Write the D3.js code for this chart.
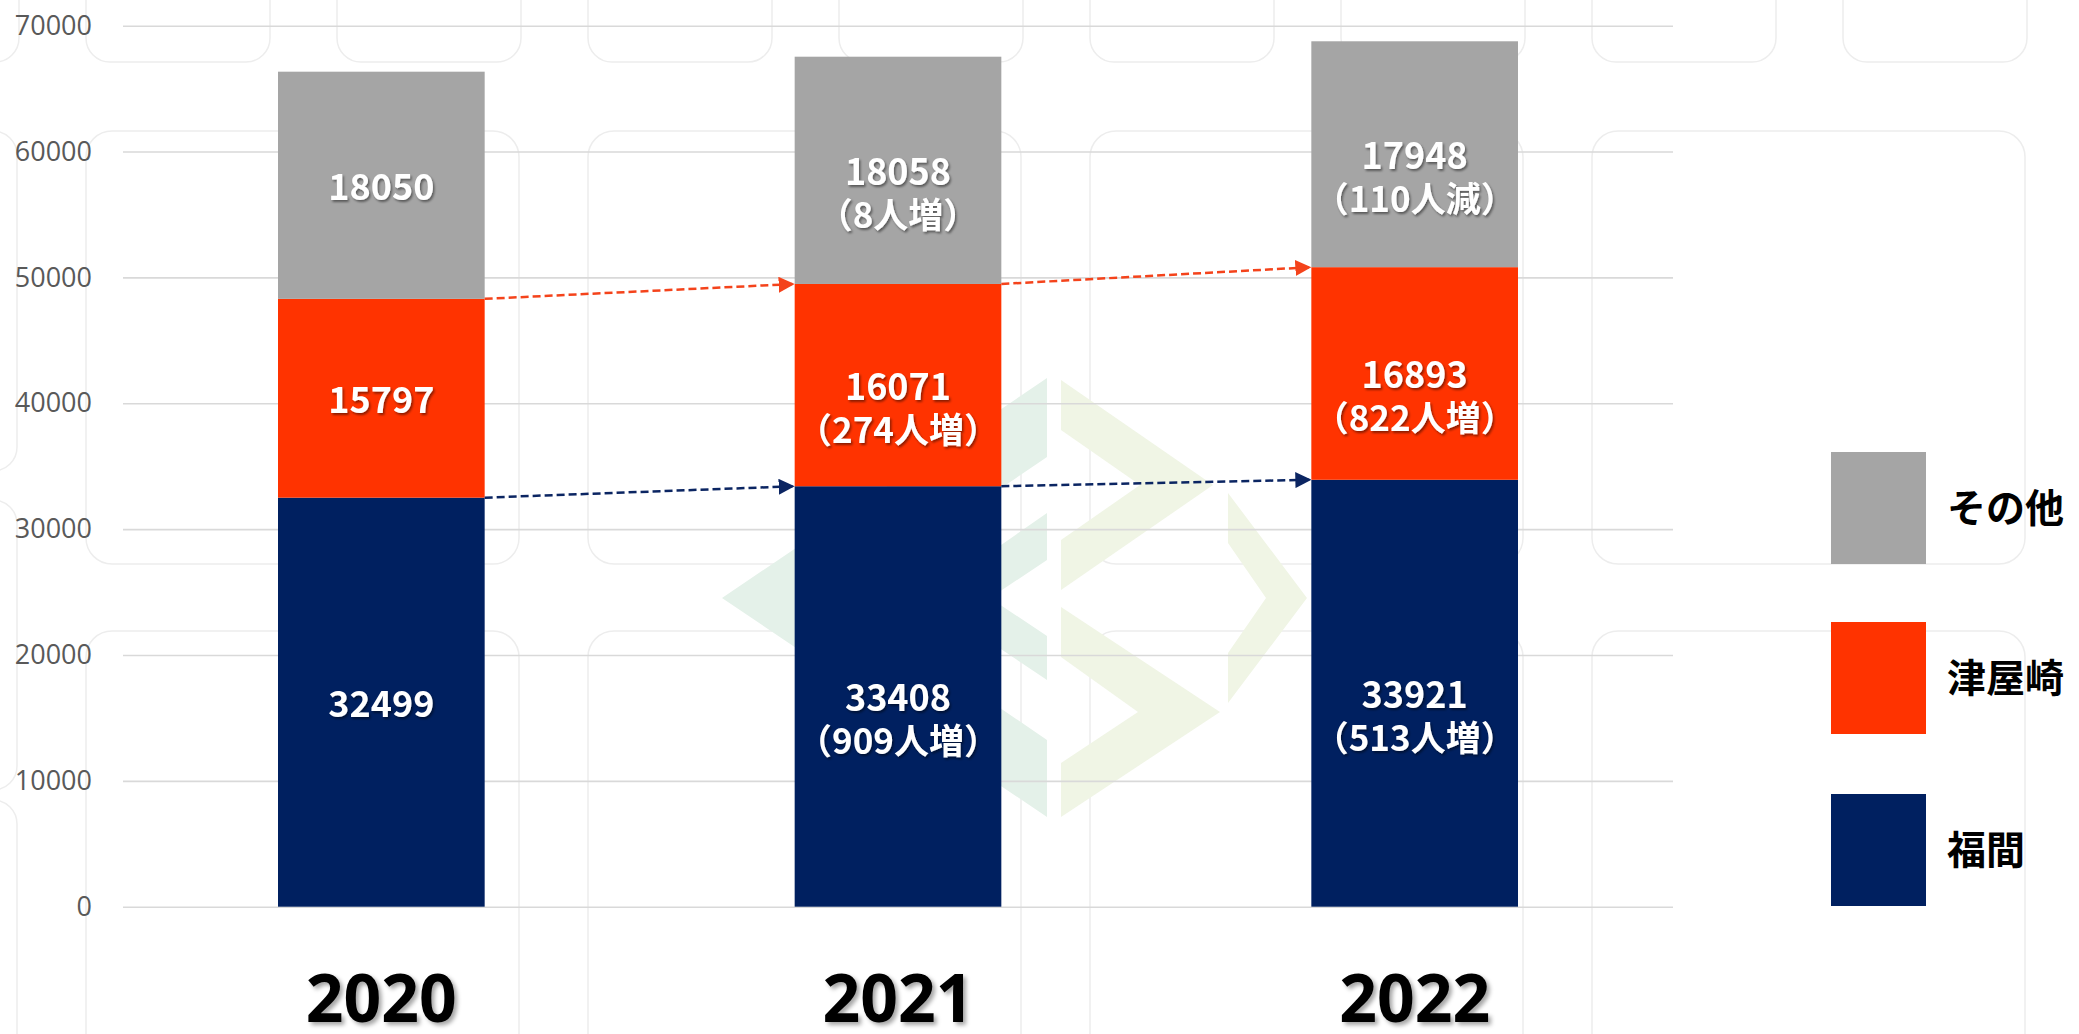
<!DOCTYPE html>
<html><head><meta charset="utf-8">
<script src="https://cdn.jsdelivr.net/npm/d3@7"></script>
<style>html,body{margin:0;padding:0;background:#fff;}svg{display:block;}</style>
</head><body>
<svg id="chart" width="2079" height="1034"></svg>
<script>
// ---- data ----
const years = ["2020", "2021", "2022"];
const fukuma = [32499, 33408, 33921];
const tsuyazaki = [15797, 16071, 16893];
const other = [18050, 18058, 17948];
const fukumaNote = ["", "（909人増）", "（513人増）"];
const tsuyazakiNote = ["", "（274人増）", "（822人増）"];
const otherNote = ["", "（8人増）", "（110人減）"];
const seriesNames = ["福間", "津屋崎", "その他"];
const yTicks = [0, 10000, 20000, 30000, 40000, 50000, 60000, 70000];

const colors = {"福間": "#002060", "津屋崎": "#FF3300", "その他": "#A5A5A5"};
const arrowColors = {"福間": "#0B2562", "津屋崎": "#F4431B"};
const CJK = "'Noto Sans CJK JP','Noto Sans',sans-serif";

const svg = d3.select("#chart");

const defs = svg.append("defs");
const f1 = defs.append("filter").attr("id","lblShadow").attr("x","-20%").attr("y","-20%").attr("width","140%").attr("height","140%");
f1.append("feDropShadow").attr("dx",1.5).attr("dy",2).attr("stdDeviation",1.2).attr("flood-color","#000").attr("flood-opacity",0.45);
const f2 = defs.append("filter").attr("id","yrShadow").attr("x","-20%").attr("y","-20%").attr("width","140%").attr("height","140%");
f2.append("feDropShadow").attr("dx",3).attr("dy",3).attr("stdDeviation",2).attr("flood-color","#000").attr("flood-opacity",0.35);

// ---- decorative background (slide pattern) ----
const bg = svg.append("g").attr("fill","none").attr("stroke","#ededed").attr("stroke-width",1.5);
for (let k = -1; k < 8; k++) {
  bg.append("rect").attr("x", 86 + 251*k).attr("y", -122).attr("width",184).attr("height",184).attr("rx",24);
}
[[-165,131,182,340],[-165,500,182,290],[-165,800,182,400]].forEach(r=>{
  bg.append("rect").attr("x",r[0]).attr("y",r[1]).attr("width",r[2]).attr("height",r[3]).attr("rx",24);
});
[86, 588, 1090, 1592].forEach(x0=>{
  bg.append("rect").attr("x",x0).attr("y",131).attr("width",433).attr("height",433).attr("rx",26);
  bg.append("rect").attr("x",x0).attr("y",631).attr("width",433).attr("height",433).attr("rx",26);
});

// faint watermark logo
const wm = svg.append("g");
const mint = "#e4f1e9", lime = "#f0f5e5";
[
  [[722,598],[1047,378],[1047,457],[839,598],[1047,740],[1047,817]],
  [[925,598],[1047,513],[1047,560],[990,598],[1047,636],[1047,680]]
].forEach(p=>wm.append("polygon").attr("points",p.join(" ")).attr("fill",mint));
[
  [[1061,380],[1213,485],[1061,590],[1061,540],[1140,485],[1061,430]],
  [[1061,607],[1220,712],[1061,817],[1061,763],[1138,712],[1061,657]],
  [[1228,493],[1307,598],[1228,703],[1228,653],[1266,598],[1228,543]]
].forEach(p=>wm.append("polygon").attr("points",p.join(" ")).attr("fill",lime));

// ---- scales ----
const y = d3.scaleLinear().domain([0, 70000]).range([906.7, 25.7]);
const x = d3.scaleBand().domain(years).range([123, 1673]).paddingInner(0.6).paddingOuter(0.3);
const bw = x.bandwidth();

// ---- grid/axis ----
const axis = svg.append("g").attr("transform","translate(123,0)")
  .call(d3.axisLeft(y).tickValues(yTicks).tickSize(-(1673-123)).tickPadding(31).tickFormat(d3.format("d")));
axis.select(".domain").remove();
axis.selectAll(".tick line").attr("stroke","#d9d9d9").attr("stroke-width",1.6);
axis.selectAll(".tick text").attr("fill","#595959").style("font-family","'Open Sans',sans-serif").style("font-size","27px");

// ---- stacked bars ----
const rows = years.map((yr,i)=>({year:yr, "福間":fukuma[i], "津屋崎":tsuyazaki[i], "その他":other[i]}));
const notes = {"福間":fukumaNote, "津屋崎":tsuyazakiNote, "その他":otherNote};
const stacked = d3.stack().keys(seriesNames)(rows);

const gBars = svg.append("g");
stacked.forEach(s=>{
  gBars.selectAll(null).data(s).join("rect")
    .attr("x", d=>x(d.data.year)).attr("width", bw)
    .attr("y", d=>y(d[1])).attr("height", d=>y(d[0])-y(d[1]))
    .attr("fill", colors[s.key]);
});

// ---- arrows ----
["福間","津屋崎"].forEach(key=>{
  const id = "arr" + (key==="福間" ? "N" : "O");
  defs.append("marker").attr("id", id).attr("viewBox","0 0 10 10").attr("refX",10).attr("refY",5)
    .attr("markerUnits","userSpaceOnUse").attr("markerWidth",16).attr("markerHeight",16).attr("orient","auto")
    .append("path").attr("d","M0,0 L10,5 L0,10 Z").attr("fill", arrowColors[key]);
  const s = stacked.find(t=>t.key===key);
  for (let i=0;i<s.length-1;i++){
    svg.append("line")
      .attr("x1", x(years[i]) + bw).attr("y1", y(s[i][1]))
      .attr("x2", x(years[i+1])).attr("y2", y(s[i+1][1]))
      .attr("stroke", arrowColors[key]).attr("stroke-width",2.5).attr("stroke-dasharray","8,4")
      .attr("marker-end", `url(#${id})`);
  }
});

// ---- labels (one text per segment; note as second line) ----
const gLbl = svg.append("g").attr("fill","#fff").attr("filter","url(#lblShadow)")
  .style("font-family", CJK).style("font-weight","700").attr("text-anchor","middle");
stacked.forEach(s=>{
  s.forEach((d,i)=>{
    const cx = x(d.data.year) + bw/2;
    const cy = y((d[0]+d[1])/2) + 2;
    const t = gLbl.append("text").attr("x",cx).attr("y",cy);
    t.append("tspan").attr("x",cx).attr("dy","0.35em").style("font-size","36px").text(d3.format("d")(d[1]-d[0]));
    const note = notes[s.key][i];
    if (note) {
      t.append("tspan").attr("x",cx).attr("dy",43).style("font-size","35px").text(note);
    }
  });
});

// ---- year labels ----
svg.append("g").selectAll("text").data(years).join("text")
  .attr("x", d=>x(d)+bw/2).attr("y", 1022).attr("text-anchor","middle")
  .attr("filter","url(#yrShadow)")
  .style("font-family","'Noto Sans',sans-serif").style("font-weight","700").style("font-size","66px")
  .attr("fill","#000").text(d=>d);

// ---- legend ----
const legendOrder = ["その他","津屋崎","福間"];
const legendY = [452, 622, 794];
const lg = svg.append("g");
legendOrder.forEach((k,i)=>{
  lg.append("rect").attr("x",1831).attr("y",legendY[i]).attr("width",95).attr("height",112).attr("fill",colors[k]);
  lg.append("text").attr("x",1947).attr("y",legendY[i]+56).attr("dy","0.35em")
    .style("font-family",CJK).style("font-weight","700").style("font-size","39px").attr("fill","#000").text(k);
});
</script>
</body></html>
